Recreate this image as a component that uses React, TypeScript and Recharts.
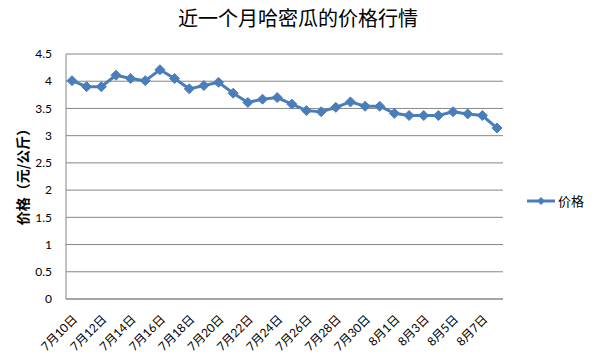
import { LineChart, Line, XAxis, YAxis, CartesianGrid, Legend, Label } from "recharts";

const dates = [
  "7月10日", "7月11日", "7月12日", "7月13日", "7月14日", "7月15日", "7月16日",
  "7月17日", "7月18日", "7月19日", "7月20日", "7月21日", "7月22日", "7月23日",
  "7月24日", "7月25日", "7月26日", "7月27日", "7月28日", "7月29日", "7月30日",
  "7月31日", "8月1日", "8月2日", "8月3日", "8月4日", "8月5日", "8月6日",
  "8月7日", "8月8日",
];
const prices = [
  4.01, 3.9, 3.9, 4.11, 4.05, 4.01, 4.21, 4.05, 3.86, 3.92,
  3.98, 3.78, 3.61, 3.67, 3.7, 3.58, 3.46, 3.44, 3.52, 3.62,
  3.54, 3.54, 3.41, 3.37, 3.37, 3.37, 3.44, 3.4, 3.37, 3.14,
];
const yTicks = [0, 0.5, 1, 1.5, 2, 2.5, 3, 3.5, 4, 4.5];

const data = dates.map((d, i) => ({ date: d, price: prices[i] }));

const BLUE = "#4A7EBB";
const GRID = "#868686";
const LATIN = "Lato, 'Noto Sans CJK SC', sans-serif";
const CJK = "'Noto Sans CJK SC', sans-serif";

const Diamond = (props: any) => {
  const { cx, cy } = props;
  if (cx == null || cy == null) return null;
  const r = 5;
  return (
    <polygon
      points={`${cx},${cy - r} ${cx + r},${cy} ${cx},${cy + r} ${cx - r},${cy}`}
      fill={BLUE}
      stroke={BLUE}
    />
  );
};

const DateTick = (props: any) => {
  const { x, y, payload } = props;
  const tx = x + 6;
  const ty = y + 13;
  return (
    <text
      x={tx}
      y={ty}
      transform={`rotate(-45 ${tx} ${ty})`}
      textAnchor="end"
      fontSize={12}
      fontFamily={LATIN}
      fill="#000"
    >
      {payload.value}
    </text>
  );
};

const LegendBox = () => (
  <svg width={80} height={20}>
    <line x1={6} y1={10} x2={34} y2={10} stroke={BLUE} strokeWidth={3} />
    <polygon points="20,6 24,10 20,14 16,10" fill={BLUE} />
    <text x={37} y={14.5} fontSize={13} fontFamily={CJK} fill="#000">
      价格
    </text>
  </svg>
);

export default function App() {
  return (
    <div style={{ position: "fixed", left: 0, top: 0, width: 596, height: 357, background: "#fff" }}>
      <div
        style={{
          position: "absolute",
          top: 4,
          left: 0,
          width: 596,
          textAlign: "center",
          fontSize: 20,
          fontFamily: CJK,
          color: "#000",
          lineHeight: "28px",
        }}
      >
        近一个月哈密瓜的价格行情
      </div>
      <LineChart
        width={596}
        height={357}
        data={data}
        margin={{ top: 54, right: 93, bottom: 0, left: 0 }}
      >
        <CartesianGrid vertical={false} stroke={GRID} />
        <XAxis
          dataKey="date"
          interval={1}
          height={58}
          padding={{ left: 6, right: 6 }}
          axisLine={{ stroke: GRID }}
          tickLine={false}
          tick={<DateTick />}
        />
        <YAxis
          width={66}
          domain={[0, 4.5]}
          ticks={yTicks}
          axisLine={{ stroke: GRID }}
          tickLine={false}
          tickMargin={8}
          tick={{ fontSize: 12, fontFamily: LATIN, fill: "#000" }}
        >
          <Label
            content={(p: any) => {
              const vb = p.viewBox || { x: 0, y: 54, height: 245 };
              const cx = 22;
              const cy = vb.y + vb.height / 2 - 3;
              return (
                <text
                  x={cx}
                  y={cy}
                  transform={`rotate(-90 ${cx} ${cy})`}
                  textAnchor="middle"
                  dominantBaseline="central"
                  fontSize={14}
                  fontWeight="bold"
                  fontFamily={CJK}
                  fill="#000"
                >
                  价格（元/公斤）
                </text>
              );
            }}
          />
        </YAxis>
        <Legend
          align="center"
          verticalAlign="middle"
          content={() => <LegendBox />}
          wrapperStyle={{ position: "absolute", left: 521, top: 191, width: 80, height: 20 }}
        />
        <Line
          type="linear"
          dataKey="price"
          name="价格"
          stroke={BLUE}
          strokeWidth={3}
          dot={<Diamond />}
          activeDot={false}
          isAnimationActive={false}
        />
      </LineChart>
    </div>
  );
}
